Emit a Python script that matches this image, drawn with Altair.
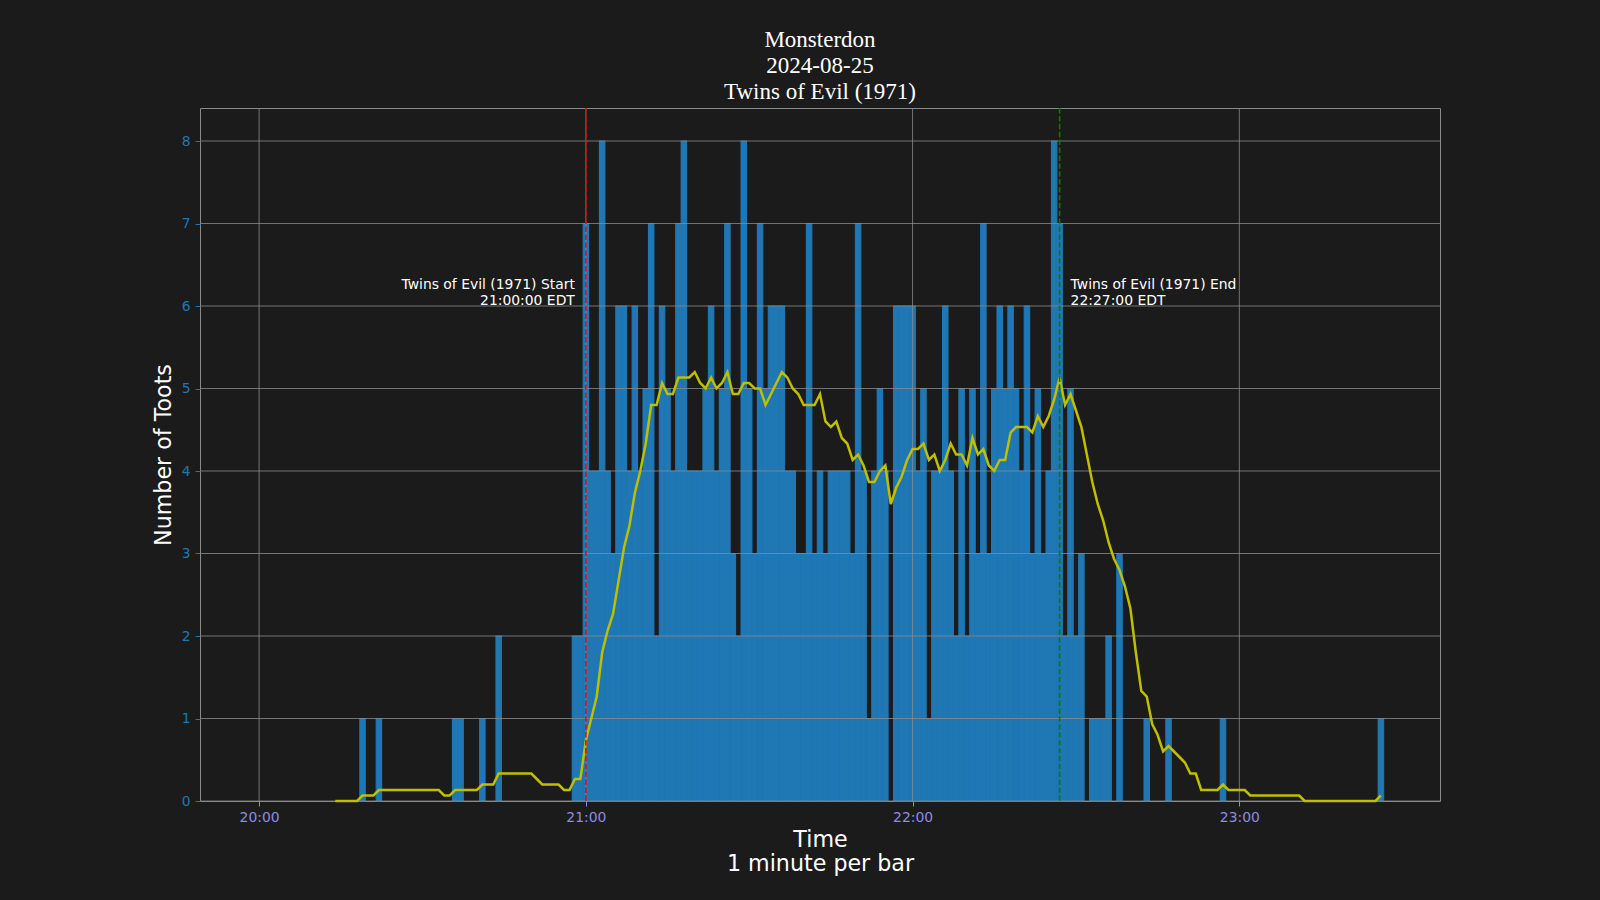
import altair as alt
import pandas as pd

# ---- data ----
# toots per minute, minute 0 = 20:00
toots = [
    0, 0, 0, 0, 0, 0, 0, 0, 0, 0,   # 20:00
    0, 0, 0, 0, 0, 0, 0, 0, 0, 1,   # 20:10
    0, 0, 1, 0, 0, 0, 0, 0, 0, 0,   # 20:20
    0, 0, 0, 0, 0, 0, 1, 1, 0, 0,   # 20:30
    0, 1, 0, 0, 2, 0, 0, 0, 0, 0,   # 20:40
    0, 0, 0, 0, 0, 0, 0, 0, 2, 2,   # 20:50
    7, 4, 4, 8, 4, 3, 6, 6, 4, 6,   # 21:00
    4, 5, 7, 2, 6, 5, 4, 7, 8, 4,   # 21:10
    4, 4, 5, 6, 4, 5, 7, 3, 2, 8,   # 21:20
    5, 3, 7, 5, 6, 6, 6, 4, 4, 3,   # 21:30
    3, 7, 3, 4, 3, 4, 4, 4, 4, 3,   # 21:40
    7, 4, 1, 4, 5, 4, 0, 6, 6, 6,   # 21:50
    6, 4, 5, 1, 4, 4, 6, 4, 2, 5,   # 22:00
    2, 5, 3, 7, 3, 5, 6, 5, 6, 5,   # 22:10
    4, 6, 3, 5, 3, 4, 8, 7, 2, 5,   # 22:20
    2, 3, 0, 1, 1, 1, 2, 0, 3, 0,   # 22:30
    0, 0, 0, 1, 0, 0, 0, 1, 0, 0,   # 22:40
    0, 0, 0, 0, 0, 0, 0, 1, 0, 0,   # 22:50
    0, 0, 0, 0, 0, 0, 0, 0, 0, 0,   # 23:00
    0, 0, 0, 0, 0, 0, 0, 0, 0, 0,   # 23:10
    0, 0, 0, 0, 0, 0, 1,            # 23:20
]
minutes = list(range(len(toots)))

rolling_window = 15          # minutes in the moving average
tick_minutes = [0, 60, 120, 180]
tick_labels = ["20:00", "21:00", "22:00", "23:00"]
y_ticks = [0, 1, 2, 3, 4, 5, 6, 7, 8]

marker_minutes = [60, 147]
marker_colors = ["#ff0000", "#008000"]
marker_texts = [
    "Twins of Evil (1971) Start\n21:00:00 EDT",
    "Twins of Evil (1971) End\n22:27:00 EDT",
]
title_lines = ["Monsterdon", "2024-08-25", "Twins of Evil (1971)"]

df = pd.DataFrame({"minute": minutes, "toots": toots})
markers = pd.DataFrame({"minute": marker_minutes, "color": marker_colors, "label": marker_texts})
xgrid = pd.DataFrame({"minute": tick_minutes})
ygrid = pd.DataFrame({"level": y_ticks})

BG = "#1b1b1b"
GRID = "#8a8a8a"
BLUE = "#1f77b4"
XLAB = "#8c8ce6"
FONT = "DejaVu Sans"

label_expr = str(tick_labels) + "[round(datum.value / 60)]"

xscale = alt.Scale(domain=[-10.85, 216.85], nice=False, zero=False, padding=0)
yscale = alt.Scale(domain=[0, 8.4], nice=False, zero=True, padding=0)

xaxis = alt.Axis(
    values=tick_minutes, labelExpr=label_expr, grid=False,
    domain=False, tickColor=XLAB, tickSize=5, labelColor=XLAB, labelFont=FONT,
    labelFontSize=13.9, labelPadding=4, titleFont=FONT, titleFontSize=22.2,
    titleFontWeight="normal", titleColor="white", titlePadding=5, titleLineHeight=24,
)
yaxis = alt.Axis(
    values=y_ticks, format="d", grid=False, domain=False,
    tickColor=BLUE, tickSize=5, labelColor=BLUE, labelFont=FONT, labelFontSize=13.9,
    labelPadding=5, titleFont=FONT, titleFontSize=22.2, titleFontWeight="normal",
    titleColor="white", titlePadding=6,
)

bars = (
    alt.Chart(df)
    .transform_filter("datum.toots > 0")
    .transform_calculate(x0="datum.minute - 0.5", x1="datum.minute + 0.5")
    .mark_bar(color=BLUE, stroke=BLUE, strokeWidth=1.1, opacity=1, fillOpacity=1,
              strokeOpacity=1, orient="vertical")
    .encode(
        x=alt.X("x0:Q", scale=xscale, axis=xaxis, title=["Time", "1 minute per bar"]),
        x2="x1:Q",
        y=alt.Y("toots:Q", scale=yscale, axis=yaxis, title="Number of Toots"),
        y2=alt.datum(0),
    )
)

grid_x = alt.Chart(xgrid).mark_rule(color=GRID, strokeWidth=0.8).encode(x="minute:Q")
grid_y = alt.Chart(ygrid).mark_rule(color=GRID, strokeWidth=0.8).encode(y="level:Q")

line = (
    alt.Chart(df)
    .transform_window(
        avg="mean(toots)", n="count()", frame=[-(rolling_window - 1), 0],
        sort=[alt.SortField("minute")],
    )
    .transform_filter(f"datum.n == {rolling_window}")
    .mark_line(color="#bfbf00", strokeWidth=2.5)
    .encode(x="minute:Q", y="avg:Q")
)

vlines = (
    alt.Chart(markers)
    .mark_rule(strokeDash=[5.5, 2.4], strokeWidth=1.6, opacity=1)
    .encode(x="minute:Q", color=alt.Color("color:N", scale=None))
)

start_text = (
    alt.Chart(markers)
    .transform_filter(f"datum.minute == {marker_minutes[0]}")
    .mark_text(align="right", baseline="bottom", dx=-11, dy=-14.5, lineBreak="\n",
               lineHeight=16, font=FONT, fontSize=13.9, color="white")
    .encode(x="minute:Q", y=alt.datum(6), text="label:N")
)
end_text = (
    alt.Chart(markers)
    .transform_filter(f"datum.minute == {marker_minutes[1]}")
    .mark_text(align="left", baseline="bottom", dx=11, dy=-14.5, lineBreak="\n",
               lineHeight=16, font=FONT, fontSize=13.9, color="white")
    .encode(x="minute:Q", y=alt.datum(6), text="label:N")
)

chart = (
    alt.layer(bars, grid_x, grid_y, line, vlines, start_text, end_text)
    .properties(
        width=1240,
        height=693,
        title=alt.TitleParams(
            text=title_lines, font="Liberation Serif", fontSize=23, lineHeight=26,
            fontWeight="normal", color="white", anchor="middle", offset=3, frame="group",
        ),
        background=BG,
        autosize=alt.AutoSizeParams(type="none"),
        padding={"left": 200, "top": 108, "right": 160, "bottom": 99},
    )
    .configure_view(stroke=GRID, strokeWidth=1)
)

chart.save("out.html", embed_options={"renderer": "svg", "actions": False})
